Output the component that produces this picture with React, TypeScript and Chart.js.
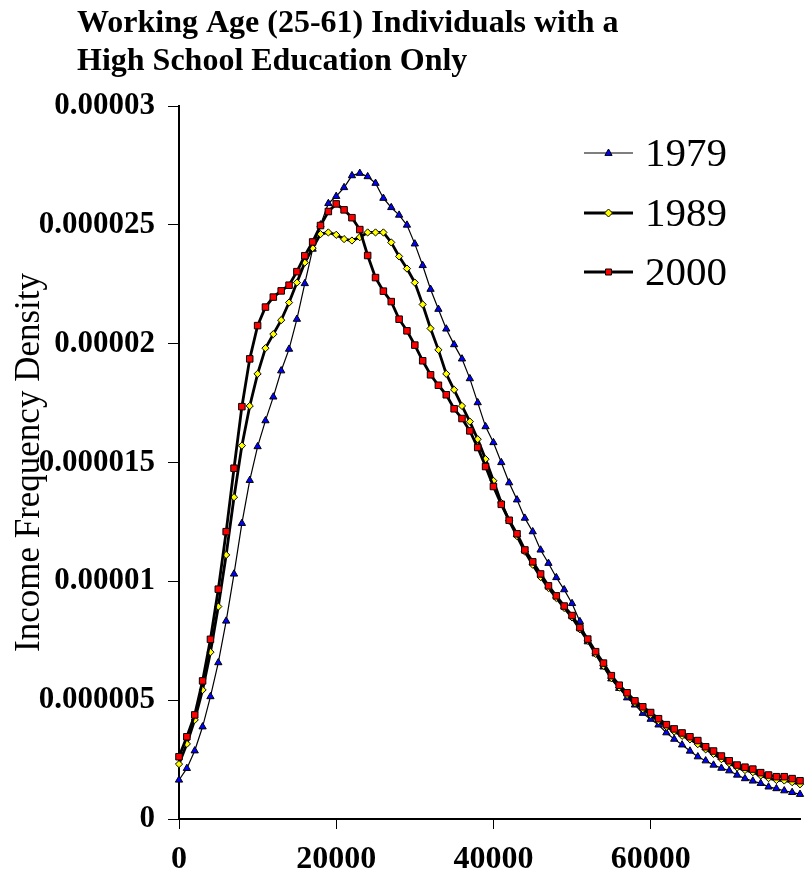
import React, { useEffect, useRef } from 'react';
import { Chart, registerables } from 'chart.js';

Chart.register(...registerables);

const FONT = "'Liberation Serif', 'Times New Roman', Times, serif";

const titleLines = ['Working Age (25-61) Individuals with a', 'High School Education Only'];
const yAxisTitle = 'Income Frequency Density';
const seriesNames = ['1979', '1989', '2000'];

// Income (x) categories
const incomes = [
  0, 1000, 2000, 3000, 4000, 5000, 6000, 7000, 8000, 9000,
  10000, 11000, 12000, 13000, 14000, 15000, 16000, 17000, 18000, 19000,
  20000, 21000, 22000, 23000, 24000, 25000, 26000, 27000, 28000, 29000,
  30000, 31000, 32000, 33000, 34000, 35000, 36000, 37000, 38000, 39000,
  40000, 41000, 42000, 43000, 44000, 45000, 46000, 47000, 48000, 49000,
  50000, 51000, 52000, 53000, 54000, 55000, 56000, 57000, 58000, 59000,
  60000, 61000, 62000, 63000, 64000, 65000, 66000, 67000, 68000, 69000,
  70000, 71000, 72000, 73000, 74000, 75000, 76000, 77000, 78000, 79000,
];

// Densities, in millionths (1e-6)
const d1979 = [
  1.64, 2.13, 2.87, 3.88, 5.15, 6.58, 8.33, 10.31, 12.44, 14.25,
  15.67, 16.76, 17.76, 18.86, 19.77, 21.03, 22.53, 23.98, 25.0, 25.9,
  26.2, 26.57, 27.07, 27.17, 27.03, 26.75, 26.12, 25.73, 25.41, 24.99,
  24.2, 23.29, 22.29, 21.45, 20.62, 19.96, 19.36, 18.53, 17.52, 16.51,
  15.84, 15.0, 14.15, 13.43, 12.66, 12.09, 11.32, 10.76, 10.16, 9.65,
  9.07, 8.31, 7.46, 6.95, 6.4, 5.9, 5.5, 5.1, 4.8, 4.45,
  4.2, 3.96, 3.63, 3.36, 3.12, 2.86, 2.62, 2.45, 2.27, 2.14,
  2.03, 1.85, 1.7, 1.6, 1.5, 1.35, 1.28, 1.19, 1.12, 1.04,
];
const d1989 = [
  2.31, 3.16, 4.17, 5.43, 7.02, 8.94, 11.11, 13.54, 15.71, 17.38,
  18.73, 19.81, 20.4, 20.99, 21.73, 22.57, 23.41, 24.02, 24.61, 24.68,
  24.58, 24.4, 24.34, 24.48, 24.68, 24.68, 24.68, 24.26, 23.67, 23.16,
  22.57, 21.65, 20.64, 19.74, 18.73, 18.06, 17.38, 16.72, 15.98, 15.14,
  14.23, 13.3, 12.55, 11.9, 11.25, 10.7, 10.18, 9.72, 9.3, 8.88,
  8.48, 7.98, 7.5, 6.95, 6.45, 5.93, 5.53, 5.22, 4.88, 4.62,
  4.38, 4.12, 3.88, 3.68, 3.5, 3.35, 3.15, 2.93, 2.74, 2.52,
  2.34, 2.16, 2.06, 1.97, 1.83, 1.72, 1.64, 1.62, 1.55, 1.46,
];
const d2000 = [
  2.62, 3.46, 4.38, 5.81, 7.56, 9.67, 12.09, 14.76, 17.35, 19.36,
  20.76, 21.54, 21.96, 22.22, 22.46, 23.03, 23.7, 24.28, 24.97, 25.56,
  25.88, 25.63, 25.3, 24.8, 23.71, 22.78, 22.21, 21.77, 21.03, 20.54,
  19.94, 19.28, 18.69, 18.25, 17.85, 17.26, 16.85, 16.33, 15.63, 14.83,
  13.99, 13.24, 12.57, 12.0, 11.32, 10.82, 10.31, 9.81, 9.39, 8.96,
  8.56, 8.05, 7.57, 7.04, 6.56, 6.03, 5.63, 5.31, 4.97, 4.72,
  4.48, 4.22, 3.97, 3.79, 3.62, 3.46, 3.3, 3.04, 2.86, 2.65,
  2.45, 2.27, 2.18, 2.1, 1.95, 1.85, 1.78, 1.78, 1.7, 1.61,
];

const xTickValues = [0, 20000, 40000, 60000];
const yTickValues = [0, 5, 10, 15, 20, 25, 30];
const yTickLabels = ['0', '0.000005', '0.00001', '0.000015', '0.00002', '0.000025', '0.00003'];

function drawMarker(ctx: CanvasRenderingContext2D, style: string, x: number, y: number, r: number, fill: string) {
  ctx.beginPath();
  if (style === 'triangle') {
    ctx.moveTo(x, y - r);
    ctx.lineTo(x + r * 0.9, y + r * 0.6);
    ctx.lineTo(x - r * 0.9, y + r * 0.6);
    ctx.closePath();
  } else if (style === 'rectRot') {
    ctx.moveTo(x, y - r);
    ctx.lineTo(x + r, y);
    ctx.lineTo(x, y + r);
    ctx.lineTo(x - r, y);
    ctx.closePath();
  } else {
    ctx.rect(x - r * 0.75, y - r * 0.75, r * 1.5, r * 1.5);
  }
  ctx.fillStyle = fill;
  ctx.fill();
  ctx.lineWidth = 1;
  ctx.strokeStyle = '#000';
  ctx.stroke();
}

const titlePlugin = {
  id: 'customTitle',
  afterDraw(chart: any) {
    const ctx = chart.ctx as CanvasRenderingContext2D;
    ctx.save();
    ctx.font = `bold 32px ${FONT}`;
    ctx.fillStyle = '#000';
    ctx.textAlign = 'left';
    ctx.textBaseline = 'alphabetic';
    ctx.fillText(titleLines[0], 77, 32);
    ctx.fillText(titleLines[1], 77, 70);
    ctx.restore();
  },
};

const legendRows = [153, 213, 272];
const legendPlugin = {
  id: 'customLegend',
  afterDraw(chart: any) {
    const ctx = chart.ctx as CanvasRenderingContext2D;
    chart.data.datasets.forEach((ds: any, i: number) => {
      const y = legendRows[i];
      ctx.save();
      ctx.strokeStyle = '#000';
      ctx.lineWidth = ds.borderWidth;
      ctx.beginPath();
      ctx.moveTo(584, y);
      ctx.lineTo(633, y);
      ctx.stroke();
      drawMarker(ctx, ds.pointStyle, 608.5, y, 4, ds.pointBackgroundColor);
      ctx.font = `41px ${FONT}`;
      ctx.fillStyle = '#000';
      ctx.textAlign = 'left';
      ctx.textBaseline = 'middle';
      ctx.fillText(ds.label, 645, y + 2);
      ctx.restore();
    });
  },
};

export default function App() {
  const canvasRef = useRef<HTMLCanvasElement | null>(null);

  useEffect(() => {
    document.body.style.margin = '0';
    document.body.style.overflow = 'hidden';
    const canvas = canvasRef.current;
    if (!canvas) return;

    const mk = (vals: number[]) => incomes.map((x, i) => ({ x, y: vals[i] }));

    const chart = new Chart(canvas, {
      type: 'line',
      data: {
        datasets: [
          {
            label: seriesNames[0],
            data: mk(d1979),
            borderColor: '#000',
            borderWidth: 1.2,
            pointStyle: 'triangle',
            pointRadius: 4.2,
            pointBackgroundColor: '#0000ff',
            pointBorderColor: '#000',
            pointBorderWidth: 1,
            order: 2,
            clip: false,
          },
          {
            label: seriesNames[1],
            data: mk(d1989),
            borderColor: '#000',
            borderWidth: 2.8,
            pointStyle: 'rectRot',
            pointRadius: 3.6,
            pointBackgroundColor: '#ffff00',
            pointBorderColor: '#000',
            pointBorderWidth: 1,
            order: 1,
            clip: false,
          },
          {
            label: seriesNames[2],
            data: mk(d2000),
            borderColor: '#000',
            borderWidth: 2.8,
            pointStyle: 'rect',
            pointRadius: 4.6,
            pointBackgroundColor: '#ff0000',
            pointBorderColor: '#000',
            pointBorderWidth: 1,
            order: 0,
            clip: false,
          },
        ] as any,
      },
      options: {
        animation: false,
        responsive: false,
        maintainAspectRatio: false,
        layout: { padding: { top: 106, right: 6, bottom: 0, left: 0 } },
        plugins: {
          legend: { display: false },
          title: { display: false },
          tooltip: { enabled: false },
        },
        scales: {
          x: {
            type: 'linear',
            min: 0,
            max: 79000,
            afterFit: (s: any) => { s.height = 64; },
            afterBuildTicks: (s: any) => { s.ticks = xTickValues.map((v) => ({ value: v })); },
            ticks: {
              autoSkip: false,
              maxRotation: 0,
              padding: 12,
              color: '#000',
              font: { family: FONT, size: 32, weight: 'bold' },
              callback: (v: any) => String(v),
            },
            grid: { display: true, drawOnChartArea: false, drawTicks: true, tickLength: 10, color: '#000', lineWidth: 1 },
            border: { display: true, color: '#000', width: 2 },
          },
          y: {
            type: 'linear',
            min: 0,
            max: 30,
            afterFit: (s: any) => { s.width = 179; },
            afterBuildTicks: (s: any) => { s.ticks = yTickValues.map((v) => ({ value: v })); },
            ticks: {
              autoSkip: false,
              padding: 13,
              color: '#000',
              font: { family: FONT, size: 31, weight: 'bold' },
              callback: (v: any) => yTickLabels[yTickValues.indexOf(v)],
            },
            title: {
              display: true,
              text: yAxisTitle,
              color: '#000',
              font: { family: FONT, size: 35, weight: 'normal' },
              padding: { top: 9, bottom: 0 },
            },
            grid: { display: true, drawOnChartArea: false, drawTicks: true, tickLength: 11, color: '#000', lineWidth: 1 },
            border: { display: true, color: '#000', width: 2 },
          },
        },
      } as any,
      plugins: [titlePlugin, legendPlugin],
    });

    return () => chart.destroy();
  }, []);

  return (
    <div style={{ width: 806, height: 883, background: '#fff' }}>
      <canvas ref={canvasRef} width={806} height={883} style={{ display: 'block', width: 806, height: 883 }} />
    </div>
  );
}
